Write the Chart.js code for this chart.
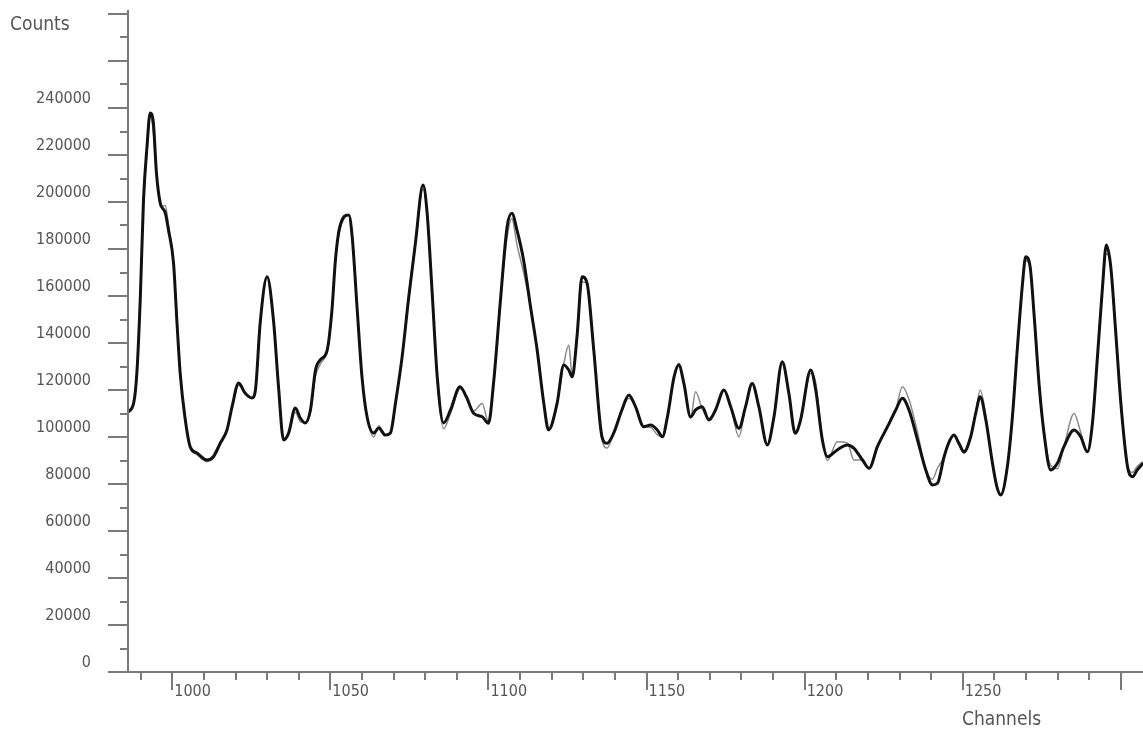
<!DOCTYPE html>
<html>
<head>
<meta charset="utf-8">
<script src="https://cdn.jsdelivr.net/npm/chart.js@4"></script>
<style>
  html, body { margin: 0; padding: 0; background: #fff; }
  #wrap { width: 1143px; height: 732px; }
</style>
</head>
<body>
<div id="wrap"><canvas id="spectrum" width="1143" height="732"></canvas></div>
<script>
// channel positions
const channels = [
  986, 987.8, 988.8, 989.9, 990.9, 992, 993, 994, 995, 996.2,
  997.8, 998.8, 1000.4, 1001.5, 1002.5, 1004, 1005.7, 1007.8, 1011, 1013,
  1015.2, 1017.3, 1018.9, 1021, 1023, 1025.2, 1026.3, 1027.8, 1030, 1032,
  1033.6, 1035.2, 1036.8, 1038.9, 1040.5, 1042, 1043.7, 1045.3, 1046.8, 1049,
  1050.5, 1051.6, 1053, 1055.8, 1056.9, 1058.5, 1060, 1061.6, 1063.7, 1065.3,
  1067.4, 1069, 1070.6, 1072.7, 1074.8, 1076.9, 1079.3, 1080.6, 1082.2, 1083.8,
  1085.8, 1088, 1091, 1093, 1095.3, 1098, 1100, 1101.6, 1103.8, 1105.9,
  1107.4, 1109, 1111.1, 1113.3, 1115.4, 1117.5, 1119, 1121.7, 1123.8, 1125.4,
  1126.5, 1128, 1129.6, 1131.2, 1133.3, 1135.9, 1137.5, 1139.6, 1142.2, 1144.4,
  1146.5, 1149.1, 1151.3, 1153.4, 1155, 1156.6, 1158.7, 1160.2, 1161.8, 1163.9,
  1165.5, 1167.6, 1169.7, 1171.8, 1174.5, 1176.6, 1179.2, 1181.3, 1183.4, 1185.5,
  1188.2, 1190.3, 1192.9, 1195, 1197, 1198.7, 1201.9, 1203.5, 1205.6, 1207.2,
  1210.3, 1213.5, 1215.6, 1218.3, 1220.4, 1223, 1226.2, 1228.8, 1230.9, 1233,
  1235.7, 1238.3, 1240.4, 1242, 1244.1, 1245.5, 1247.2, 1248.8, 1250.4, 1252.5,
  1254.1, 1255.5, 1257.3, 1259.4, 1260.8, 1262, 1264.1, 1265.7, 1267.3, 1268.9,
  1269.9, 1271.3, 1272.6, 1274.2, 1275.7, 1277.8, 1279.9, 1282, 1285.2, 1287.3,
  1289.4, 1291, 1292.6, 1294.2, 1295.4, 1296.8, 1298.4, 1300, 1302.1, 1303.7,
  1305.2, 1307
];

// thick black curve
const fitCounts = [
  110600, 114500, 127200, 159600, 200800, 223400, 237900, 234000, 212300, 199600,
  195300, 188100, 174000, 148500, 127200, 108500, 95700, 93200, 90200, 91500,
  97400, 103000, 112800, 123000, 118700, 116600, 120000, 148500, 168200, 149800,
  121400, 98700, 101700, 112300, 108100, 106000, 111500, 128500, 132800, 137000,
  154000, 175300, 189500, 194500, 185200, 154000, 125600, 108600, 101700, 103800,
  100800, 101700, 114500, 134200, 159700, 182500, 207200, 195300, 161300, 125600,
  106000, 111500, 121400, 117100, 110100, 108600, 105800, 122800, 158300, 189500,
  195200, 188100, 175300, 155400, 137000, 114300, 103000, 114300, 130600, 128500,
  125600, 142700, 168200, 165400, 137000, 100100, 97300, 101600, 111500, 117900,
  112900, 104400, 105100, 103000, 100100, 108600, 125600, 130600, 122800, 108600,
  111500, 112900, 107200, 111500, 120000, 112900, 103700, 112900, 122800, 112900,
  96600, 108600, 132000, 118600, 101600, 107200, 128500, 120000, 98700, 91600,
  94500, 96600, 95200, 90200, 86700, 95900, 104400, 111500, 116500, 111500,
  98700, 86000, 79600, 80300, 91600, 97300, 100800, 97300, 93700, 100100,
  110100, 117100, 107200, 88800, 78800, 75300, 87400, 108600, 138400, 165400,
  176700, 172500, 151200, 121400, 101600, 86000, 88800, 95900, 103000, 100100,
  93700, 105800, 134200, 164000, 181700, 172500, 144100, 114300, 87400, 83100,
  86000, 88800
];

// thin grey curve (raw counts)
const rawCounts = [
  110600, 114500, 127200, 159600, 200800, 221000, 236500, 230000, 212300, 198000,
  198500, 190000, 174000, 148500, 127200, 108500, 95700, 92500, 89500, 92500,
  98000, 103000, 112800, 122000, 118700, 116600, 120000, 148500, 168200, 149800,
  121400, 99500, 101000, 110500, 106500, 106000, 110500, 126000, 131000, 137000,
  154000, 175300, 188000, 194500, 185200, 154000, 125600, 108600, 100000, 104800,
  100800, 101700, 114500, 134200, 161000, 182500, 205500, 195300, 161300, 124000,
  103500, 110000, 120500, 117100, 111000, 114300, 106500, 122800, 158300, 185000,
  193000, 182000, 170000, 155400, 137000, 114300, 103000, 114300, 131000, 139100,
  126000, 142700, 166000, 165400, 137000, 99000, 95300, 101600, 111500, 116500,
  112900, 104400, 104000, 101000, 100100, 108600, 125600, 131500, 122800, 108000,
  119300, 112000, 108000, 111500, 120000, 112900, 100100, 112900, 122800, 112900,
  96600, 108600, 131000, 118600, 101600, 107200, 127000, 123000, 98700, 90000,
  98000, 97500, 90200, 90200, 86700, 95900, 104400, 111500, 121400, 116000,
  102000, 86000, 82000, 86700, 91600, 97300, 100800, 96500, 93000, 100100,
  110100, 120000, 109000, 88800, 78800, 76000, 87400, 108600, 138400, 165400,
  175000, 172500, 151200, 121400, 101600, 88000, 86500, 95900, 110000, 102000,
  93700, 105800, 134200, 164000, 178000, 172500, 144100, 114300, 87400, 85000,
  87500, 89500
];

const yTickLabels = [0, 20000, 40000, 60000, 80000, 100000, 120000, 140000, 160000, 180000, 200000, 220000, 240000];
const xTickLabels = [1000, 1050, 1100, 1150, 1200, 1250];

const textFont = { family: "'DejaVu Sans Condensed', 'DejaVu Sans', sans-serif", size: 16 };
const nameFontSize = 19;
const textColor = '#555';
const axisColor = '#7a7a7a';

// draws axis lines, long/short tick marks and the two axis names
const axesPlugin = {
  id: 'oldAxes',
  afterDraw(chart) {
    const { ctx, chartArea, scales: { x, y } } = chart;
    ctx.save();
    ctx.strokeStyle = axisColor;
    ctx.lineWidth = 2;
    ctx.beginPath();
    ctx.moveTo(chartArea.left, chartArea.top - 4);
    ctx.lineTo(chartArea.left, chartArea.bottom);
    ctx.moveTo(chartArea.left - 20, chartArea.bottom);
    ctx.lineTo(chart.width, chartArea.bottom);
    y.ticks.forEach(t => {
      const py = Math.round(y.getPixelForValue(t.value));
      const len = t.value % 20000 === 0 ? 20 : 8;
      ctx.moveTo(chartArea.left - len, py);
      ctx.lineTo(chartArea.left, py);
    });
    x.ticks.forEach(t => {
      const px = Math.round(x.getPixelForValue(t.value));
      const len = t.value % 50 === 0 ? 18 : 8;
      ctx.moveTo(px, chartArea.bottom);
      ctx.lineTo(px, chartArea.bottom + len);
    });
    ctx.stroke();

    ctx.fillStyle = textColor;
    ctx.font = `${nameFontSize}px ${textFont.family}`;
    ctx.textBaseline = 'middle';
    ctx.textAlign = 'left';
    ctx.fillText('Counts', 10, 25);
    ctx.fillText('Channels', 962, 720);
    ctx.restore();
  }
};

const ctx = document.getElementById('spectrum').getContext('2d');
new Chart(ctx, {
  type: 'line',
  data: {
    datasets: [
      {
        label: 'Fit',
        data: channels.map((c, i) => ({ x: c, y: fitCounts[i] })),
        borderColor: '#111',
        borderWidth: 3,
        pointRadius: 0,
        cubicInterpolationMode: 'monotone',
        fill: false
      },
      {
        label: 'Counts',
        data: channels.map((c, i) => ({ x: c, y: rawCounts[i] })),
        borderColor: '#8a8a8a',
        borderWidth: 1.5,
        pointRadius: 0,
        cubicInterpolationMode: 'monotone',
        fill: false
      }
    ]
  },
  options: {
    responsive: false,
    animation: false,
    layout: { padding: { top: 14, right: 0, left: 0, bottom: 0 } },
    plugins: {
      legend: { display: false },
      tooltip: { enabled: false }
    },
    scales: {
      x: {
        type: 'linear',
        min: 986,
        max: 1307,
        grid: { display: false, drawTicks: false },
        border: { display: false },
        afterBuildTicks: scale => {
          const ticks = [];
          for (let v = 990; v <= 1300; v += 10) ticks.push({ value: v });
          scale.ticks = ticks;
        },
        afterFit: scale => {
          scale.height = 60;
          scale.paddingLeft = 0;
          scale.paddingRight = 0;
        },
        ticks: {
          autoSkip: false,
          maxRotation: 0,
          align: 'start',
          labelOffset: 2,
          padding: 10,
          color: textColor,
          font: textFont,
          callback: v => xTickLabels.includes(v) ? String(v) : ''
        }
      },
      y: {
        min: 0,
        max: 280000,
        grid: { display: false, drawTicks: false },
        border: { display: false },
        afterFit: scale => {
          scale.width = 128;
          scale.paddingTop = 0;
          scale.paddingBottom = 0;
        },
        ticks: {
          stepSize: 10000,
          autoSkip: false,
          padding: 37,
          labelOffset: -9,
          color: textColor,
          font: textFont,
          callback: v => yTickLabels.includes(v) ? String(v) : ''
        }
      }
    }
  },
  plugins: [axesPlugin]
});
</script>
</body>
</html>
